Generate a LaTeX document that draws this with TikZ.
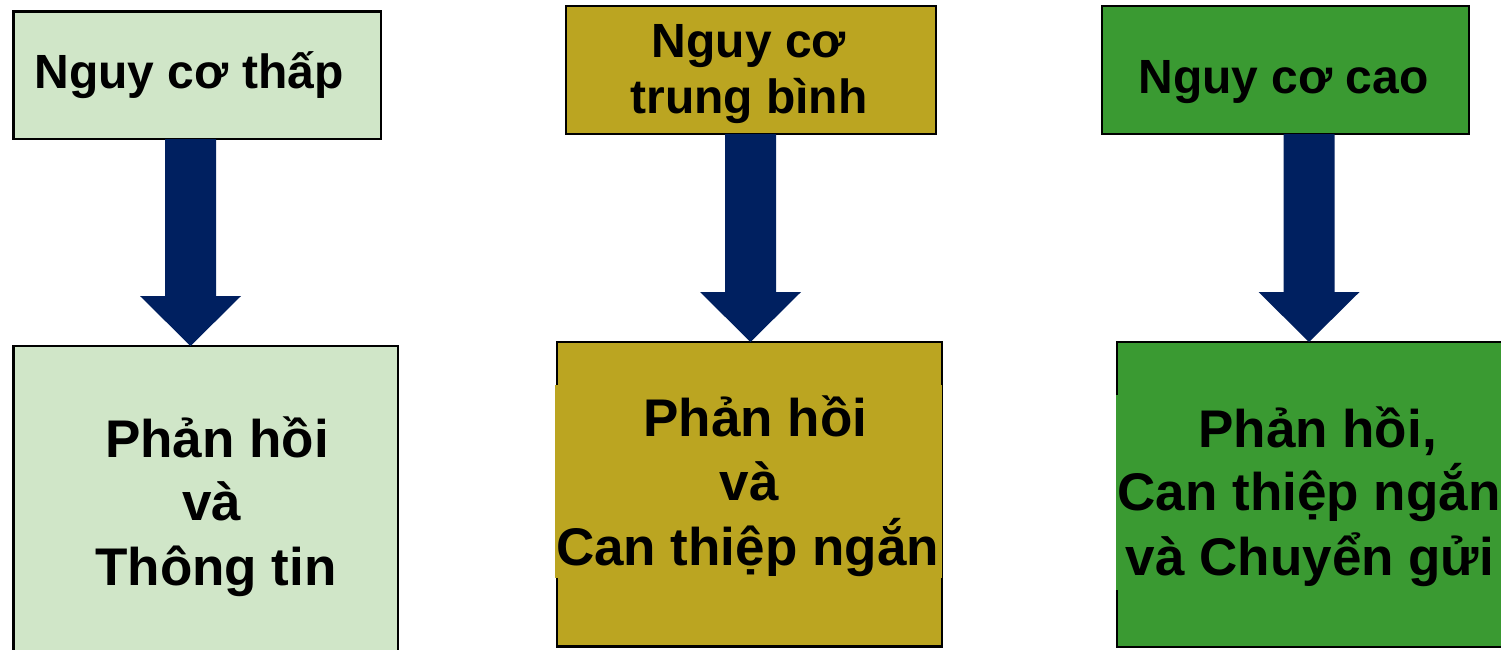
\documentclass[tikz,border=0pt]{standalone}
\usepackage{fontspec}
\setmainfont{Liberation Sans}
\usetikzlibrary{calc}
\definecolor{lowc}{HTML}{D0E6C8}
\definecolor{midc}{HTML}{BBA521}
\definecolor{highc}{HTML}{3A9A32}
\definecolor{navy}{HTML}{002060}
\tikzset{
  box/.style={draw=black, line width=2.5pt, rectangle, inner sep=0pt, outer sep=0pt, anchor=north west},
  band/.style={rectangle, draw=none, inner sep=0pt, outer sep=0pt, anchor=north west},
  toptext/.style={anchor=base, inner sep=0pt, font=\fontsize{48}{56}\selectfont\bfseries},
  bottext/.style={anchor=base, inner sep=0pt, font=\fontsize{53}{64}\selectfont\bfseries},
  blockarrow/.style={fill=navy, draw=none},
}
\newcommand\blockarr[2]{%
  \path[blockarrow] ($(#1)+(-25.5,0)$) -- ($(#1)+(25.5,0)$) -- ($(#2)+(25.5,-50)$) -- ($(#2)+(50.5,-50)$) -- (#2) -- ($(#2)+(-50.5,-50)$) -- ($(#2)+(-25.5,-50)$) -- cycle;}
\begin{document}
\begin{tikzpicture}[x=1pt,y=-1pt]
\clip (0,0) rectangle (1501,649);
\fill[white] (0,0) rectangle (1501,649);
% boxes
\node[box, fill=lowc,  minimum width=367.5pt, minimum height=127.5pt] (t1) at (13.5,11.5) {};
\node[box, fill=midc,  minimum width=370pt,   minimum height=128pt]   (t2) at (566,6) {};
\node[box, fill=highc, minimum width=367pt,   minimum height=128pt]   (t3) at (1102,6) {};
\node[box, fill=lowc,  minimum width=384.5pt, minimum height=330pt]   (b1) at (13.5,346) {};
\node[box, fill=midc,  minimum width=385pt,   minimum height=304.5pt] (b2) at (557,342) {};
\node[box, fill=highc, minimum width=400pt,   minimum height=305pt]   (b3) at (1117,342) {};
% text bands covering the borders
\node[band, fill=midc,  minimum width=387pt, minimum height=193pt] (bd2) at (555,385) {};
\node[band, fill=highc, minimum width=400pt, minimum height=195pt] (bd3) at (1115.5,395) {};
% arrows
\coordinate (ax1) at (190.5,0);
\coordinate (ax2) at (750.5,0);
\coordinate (ax3) at (1309,0);
\blockarr{ax1 |- t1.south}{ax1 |- b1.north}
\blockarr{ax2 |- t2.south}{ax2 |- b2.north}
\blockarr{ax3 |- t3.south}{ax3 |- b3.north}
% top texts
\node[toptext] (t1a) at (189,88) {Nguy cơ thấp};
\node[toptext] (t2a) at (749,57) {Nguy cơ};
\node[toptext] (t2b) at (749,113) {trung bình};
\node[toptext] (t3a) at (1283.5,93) {Nguy cơ cao};
% bottom texts
\node[bottext] (b1a) at (217,457) {Phản hồi};
\node[bottext] (b1b) at (211.5,520) {và};
\node[bottext] (b1c) at (216,585) {Thông tin};
\node[bottext] (b2a) at (755.5,436) {Phản hồi};
\node[bottext] (b2b) at (749,500) {và};
\node[bottext] (b2c) at (747.5,565) {Can thiệp ngắn};
\node[bottext] (b3a) at (1317.5,447) {Phản hồi,};
\node[bottext] (b3b) at (1309,510) {Can thiệp ngắn};
\node[bottext] (b3c) at (1310,575) {và Chuyển gửi};
\end{tikzpicture}
\end{document}
